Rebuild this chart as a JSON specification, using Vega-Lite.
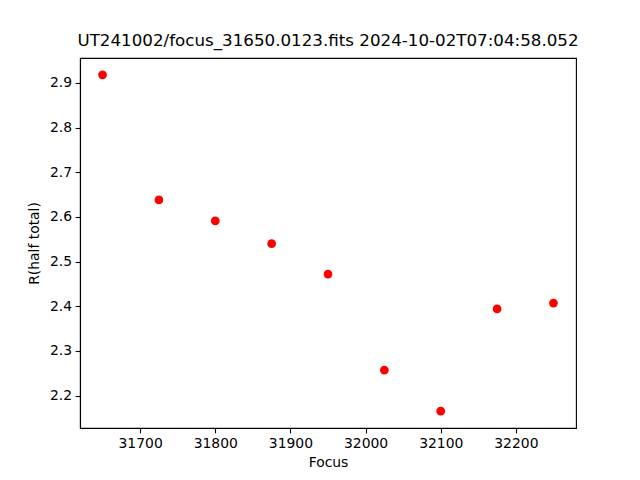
{
  "$schema": "https://vega.github.io/schema/vega-lite/v6.json",
  "width": 496,
  "height": 370,
  "autosize": {"type": "none"},
  "padding": {"left": 80, "top": 58, "right": 64, "bottom": 52},
  "background": "white",
  "title": {
    "text": "UT241002/focus_31650.0123.fits 2024-10-02T07:04:58.052",
    "font": "DejaVu Sans",
    "fontSize": 16.7,
    "fontWeight": "normal",
    "color": "black",
    "anchor": "middle",
    "offset": 8
  },
  "config": {
    "view": {"stroke": "black", "strokeWidth": 1.1},
    "axis": {
      "labelFont": "DejaVu Sans",
      "titleFont": "DejaVu Sans",
      "labelFontSize": 13.9,
      "titleFontSize": 13.9,
      "titleFontWeight": "normal",
      "labelColor": "black",
      "titleColor": "black",
      "domainColor": "black",
      "tickColor": "black",
      "tickSize": 4.9,
      "tickWidth": 1.1,
      "domainWidth": 1.1,
      "labelPadding": 3.5,
      "grid": false
    }
  },
  "data": {
    "values": [
      {"focus": 31650, "r": 2.918},
      {"focus": 31725, "r": 2.638},
      {"focus": 31800, "r": 2.591},
      {"focus": 31875, "r": 2.540},
      {"focus": 31950, "r": 2.472},
      {"focus": 32025, "r": 2.257},
      {"focus": 32100, "r": 2.165},
      {"focus": 32175, "r": 2.394},
      {"focus": 32250, "r": 2.407}
    ]
  },
  "mark": {"type": "point", "filled": true, "shape": "circle", "size": 76, "color": "#ff0000", "opacity": 1},
  "encoding": {
    "x": {
      "field": "focus",
      "type": "quantitative",
      "title": "Focus",
      "scale": {"domain": [31620, 32280], "nice": false, "zero": false},
      "axis": {"values": [31700, 31800, 31900, 32000, 32100, 32200], "format": "d", "titlePadding": 5}
    },
    "y": {
      "field": "r",
      "type": "quantitative",
      "title": "R(half total)",
      "scale": {"domain": [2.1274, 2.9557], "nice": false, "zero": false},
      "axis": {"values": [2.2, 2.3, 2.4, 2.5, 2.6, 2.7, 2.8, 2.9], "format": ".1f", "titlePadding": 8}
    }
  }
}
